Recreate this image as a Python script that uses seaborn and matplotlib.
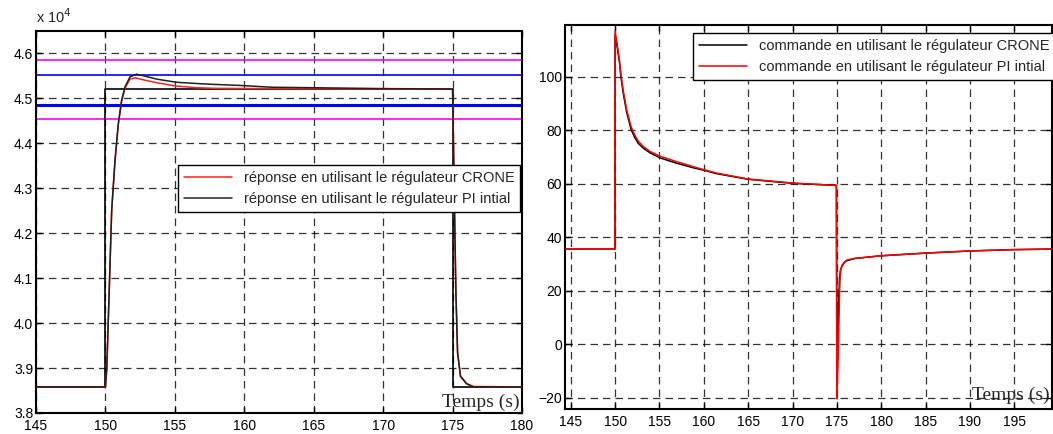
import numpy as np
import pandas as pd
import matplotlib
matplotlib.use("Agg")
import matplotlib.pyplot as plt
from matplotlib.ticker import FuncFormatter
import seaborn as sns

# ---- left panel : reponse ----
t_ref = [145, 150, 150, 175, 175, 180]
y_ref = [38580, 38580, 45200, 45200, 38580, 38580]

t_pi = [145, 150.0, 150.1, 150.3, 150.45, 150.69, 150.93, 151.17, 151.41, 151.77, 152.25,
        152.8, 153.7, 155.13, 157.3, 159.7, 162, 166, 170, 175.0, 175.12, 175.24, 175.36,
        175.57, 176.0, 176.5, 180]
y_pi = [38580, 38580, 39000, 41000, 42500, 43620, 44440, 44960, 45250, 45470, 45530,
        45490, 45420, 45350, 45310, 45280, 45240, 45225, 45210, 45200, 42880, 40660, 39330,
        38810, 38650, 38580, 38580]

t_crone = [145, 150.0, 150.1, 150.3, 150.45, 150.69, 150.93, 151.17, 151.41, 151.77, 152.13,
           152.8, 153.7, 155.0, 156.5, 158, 162, 166, 170, 175.0, 175.12, 175.24, 175.36,
           175.57, 176.0, 176.5, 180]
y_crone = [38580, 38580, 39000, 41000, 42500, 43600, 44420, 44930, 45220, 45420, 45450,
           45400, 45340, 45270, 45230, 45215, 45210, 45205, 45203, 45200, 42900, 40700, 39360,
           38830, 38660, 38590, 38580]

bands = [45840, 45520, 44850, 44530]
band_colors = ["#ff00ff", "#0000ff", "#0000ff", "#ff00ff"]
band_widths = [1.2, 1.2, 2.2, 1.2]

# ---- right panel : commande ----
t_cmd_crone = [144.4, 149.98, 150.0, 150.19, 150.48, 150.67, 150.93, 151.31, 151.8, 152.2,
               152.62, 153.2, 153.94, 155.07, 156.95, 158.82, 160, 161.46, 165, 170, 174.95,
               175.0, 175.1, 175.2, 175.3, 175.4, 175.6, 176.0, 177, 180, 185, 190, 195, 199.2]
u_cmd_crone = [35.5, 35.5, 115.5, 112.0, 105.5, 99.5, 93.5, 86.5, 80.3, 77.3,
               75.0, 73.2, 71.5, 69.6, 67.6, 65.9, 65.0, 63.7, 61.6, 60.1, 59.3,
               -8.0, 2.0, 16.0, 24.0, 27.5, 29.5, 31.0, 32.0, 33.0, 34.0, 34.8, 35.3, 35.5]

t_cmd_pi = [144.4, 149.98, 150.0, 150.19, 150.48, 150.67, 150.93, 151.31, 151.8, 152.2,
            152.62, 153.2, 153.94, 155.07, 156.95, 158.82, 160, 161.46, 165, 170, 174.95,
            175.0, 175.15, 175.28, 175.35, 175.45, 175.8, 176.2, 177, 180, 185, 190, 195, 199.2]
u_cmd_pi = [35.5, 35.5, 117.0, 113.0, 106.5, 100.5, 94.5, 87.5, 81.3, 78.2,
            75.8, 73.8, 72.0, 70.2, 68.2, 66.3, 65.2, 63.9, 61.7, 60.2, 59.3,
            -20.5, -5.0, 15.0, 24.0, 28.0, 30.5, 31.5, 32.0, 33.0, 34.0, 34.8, 35.3, 35.5]

sns.set_style("ticks")
plt.rcParams["font.family"] = ["Liberation Sans", "DejaVu Sans"]

fig = plt.figure(figsize=(10.53, 4.34), dpi=100)
ax1 = fig.add_axes([36 / 1053, 21 / 434, 486 / 1053, 382 / 434])
ax2 = fig.add_axes([565 / 1053, 25 / 434, 486.5 / 1053, 384 / 434])

grid_kw = dict(color="black", linestyle=(0, (6, 4)), linewidth=0.9, alpha=0.8)

# left
for v, c, w in zip(bands, band_colors, band_widths):
    ax1.axhline(v, color=c, linewidth=w, zorder=2)
ax1.plot(t_ref, y_ref, color="black", linewidth=1.2, zorder=3)
df_l = pd.concat([
    pd.DataFrame({"t": t_crone, "y": y_crone,
                  "s": "réponse en utilisant le régulateur CRONE"}),
    pd.DataFrame({"t": t_pi, "y": y_pi,
                  "s": "réponse en utilisant le régulateur PI intial"}),
])
sns.lineplot(data=df_l, x="t", y="y", hue="s", estimator=None, sort=False,
             palette=["#ff2020", "#202020"], linewidth=1.1, ax=ax1, zorder=4)
ax1.set_xlim(145, 180)
ax1.set_ylim(38000, 46490)
ax1.set_xticks(np.arange(145, 181, 5))
ax1.set_yticks(np.arange(38000, 46001, 1000))
ax1.yaxis.set_major_formatter(FuncFormatter(lambda v, p: f"{v / 1e4:.1f}"))
ax1.grid(True, **grid_kw)
leg1 = ax1.legend(loc="upper left", bbox_to_anchor=(178 / 1053, 1 - 165 / 434),
                  bbox_transform=fig.transFigure, borderaxespad=0, fontsize=10.5,
                  fancybox=False, framealpha=1, edgecolor="black", handlelength=3.3,
                  title=None)
leg1.get_frame().set_linewidth(1.0)
fig.text(36 / 1053, 1 - 23 / 434, "x 10$^4$", fontsize=10.5, va="baseline")
ax1.text(0.996, 0.016, "Temps (s)", transform=ax1.transAxes, ha="right",
         va="baseline", fontsize=14, family=["Liberation Serif", "DejaVu Serif"], zorder=6)

# right
df_r = pd.concat([
    pd.DataFrame({"t": t_cmd_crone, "u": u_cmd_crone,
                  "s": "commande en utilisant le régulateur CRONE"}),
    pd.DataFrame({"t": t_cmd_pi, "u": u_cmd_pi,
                  "s": "commande en utilisant le régulateur PI intial"}),
])
sns.lineplot(data=df_r, x="t", y="u", hue="s", estimator=None, sort=False,
             palette=["#000000", "#ff0000"], linewidth=1.1, ax=ax2, zorder=4)
ax2.set_xlim(144.35, 199.2)
ax2.set_ylim(-24.3, 119.3)
ax2.set_xticks(np.arange(145, 196, 5))
ax2.set_yticks(np.arange(-20, 101, 20))
ax2.grid(True, **grid_kw)
leg2 = ax2.legend(loc="upper left", bbox_to_anchor=(693 / 1053, 1 - 33 / 434),
                  bbox_transform=fig.transFigure, borderaxespad=0, fontsize=10.5,
                  fancybox=False, framealpha=1, edgecolor="black", handlelength=3.3,
                  title=None)
leg2.get_frame().set_linewidth(1.0)
ax2.text(0.997, 0.023, "Temps (s)", transform=ax2.transAxes, ha="right",
         va="baseline", fontsize=14, family=["Liberation Serif", "DejaVu Serif"], zorder=6)

for ax in (ax1, ax2):
    ax.set_xlabel("")
    ax.set_ylabel("")
    ax.tick_params(direction="in", top=True, right=True, length=4, width=1,
                   labelsize=10, colors="black")
    ax.tick_params(axis="x", pad=4)
    ax.tick_params(axis="y", pad=2)
    for sp in ax.spines.values():
        sp.set_linewidth(1.5)
        sp.set_color("black")
        sp.set_visible(True)

fig.savefig("out.png", dpi=100)
